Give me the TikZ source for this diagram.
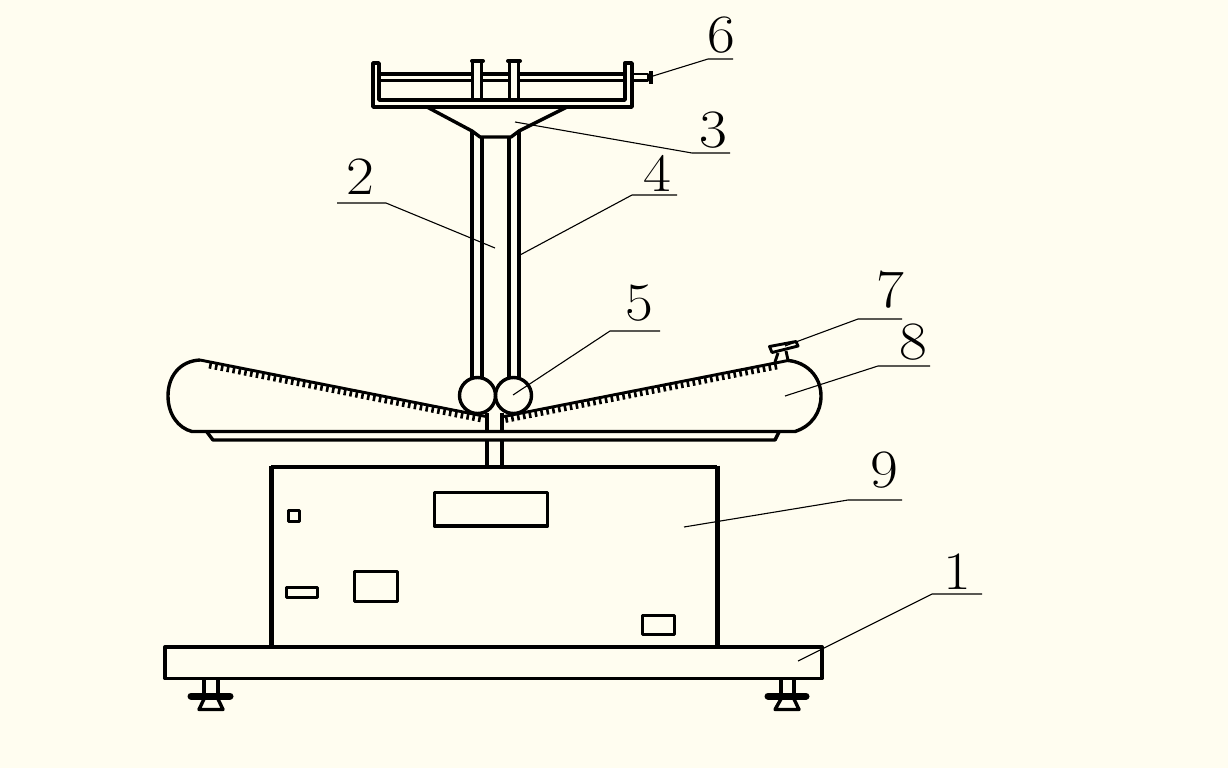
\documentclass[tikz,border=0pt]{standalone}
\definecolor{paper}{HTML}{FFFDF0}
\tikzset{
  heavy/.style={line width=3.4pt,line join=round,black},
  sidewall/.style={line width=5pt,black},
  medium/.style={line width=2.9pt,line join=round,black},
  graduation/.style={line width=2.6pt,black},
  footbar/.style={line width=7pt,line cap=round,black},
  leader/.style={line width=1.1pt,black},
  numeral/.style={font=\fontsize{54}{54}\selectfont,inner sep=0pt,text=black,transform shape,xscale=1.12}
}
\begin{document}
\begin{tikzpicture}[x=1pt,y=-1pt]
\fill[paper] (0,0) rectangle (1228,768);
\useasboundingbox (0,0) rectangle (1228,768);

% base and feet
\draw[heavy] (165,647) rectangle (822,678.5);
\draw[heavy] (204,679) -- (204,695) (218,679) -- (218,695);
\draw[heavy] (781,679) -- (781,695) (794,679) -- (794,695);
\draw[footbar] (191,696) -- (230,696);
\draw[footbar] (768,696) -- (806,696);
\draw[heavy] (204,699) -- (199,709.5) -- (223,709.5) -- (218,699);
\draw[heavy] (781,699) -- (775,709.5) -- (799,709.5) -- (794,699);

% cabinet
\draw[heavy] (271,467) -- (717,467);
\draw[sidewall] (271,465.5) -- (271,647);
\draw[sidewall] (717,465.5) -- (717,647);
\draw[medium] (288.5,510.5) rectangle (299.5,521.5);
\draw[heavy] (434.5,492.5) rectangle (547.5,526);
\draw[medium] (286.5,587.5) rectangle (317.5,597.5);
\draw[medium] (354.5,571.5) rectangle (397.5,601.5);
\draw[medium] (642.5,615.5) rectangle (674.5,634.5);

% central shaft
\draw[heavy] (487,440) -- (487,467) (502,440) -- (502,467);
\draw[heavy] (487,413) -- (487,432) (502,413) -- (502,432);

% trough
\draw[heavy] (200,360) .. controls (180,361) and (168,376) .. (168,396)
  .. controls (168,414) and (178,428) .. (192,431.5) -- (795,431.5)
  .. controls (812,426) and (821,412) .. (821,396)
  .. controls (821,376) and (806,362) .. (788,360.5);
\draw[medium] (200,360) -- (486,416.5);
\draw[medium] (504,416.5) -- (788,360.5);
\draw[heavy] (207,432) -- (213,440) -- (775,440) -- (779,432);
\foreach \t in {0,1,...,46}{
  \pgfmathsetmacro{\tx}{211+5.85*\t}
  \pgfmathsetmacro{\ty}{360+0.198*(\tx-200)}
  \draw[graduation] (\tx,\ty) -- (\tx-1.2,\ty+6.5);
}
\foreach \t in {0,1,...,46}{
  \pgfmathsetmacro{\tx}{506+5.85*\t}
  \pgfmathsetmacro{\ty}{416.5-0.197*(\tx-504)}
  \draw[graduation] (\tx,\ty) -- (\tx+1.2,\ty+6.5);
}

% clamp on trough
\draw[medium] (769.5,346.5) -- (796,341.5) -- (798,346) -- (772,352.5) -- cycle;
\draw[medium] (778,353) -- (775,362) (786,351) -- (788,360);

% balls
\draw[heavy] (477.5,395.5) circle[radius=18];
\draw[heavy] (513.5,395.5) circle[radius=18];

% tubes
\draw[heavy] (472,131) -- (472,378) (482,137) -- (482,378);
\draw[heavy] (509,137) -- (509,378) (519,131) -- (519,378);

% funnel
\draw[heavy] (427,107) -- (472,131) -- (480,137) -- (511,137) -- (519,131) -- (567,107);

% tray
\draw[heavy] (379,100) -- (379,63) -- (373,63) -- (373,107) -- (632,107) -- (632,63) -- (625,63) -- (625,100) -- cycle;
\draw[medium] (472.5,100) -- (472.5,61) (481.5,100) -- (481.5,61);
\draw[medium] (509.5,100) -- (509.5,61) (518.5,100) -- (518.5,61);
\draw[line width=4pt,line cap=round] (472,61) -- (483,61);
\draw[line width=4pt,line cap=round] (508,61) -- (520,61);
\draw[heavy] (380,74) -- (472,74) (482,74) -- (509,74) (519,74) -- (624,74);
\draw[heavy] (380,80.5) -- (472,80.5) (482,80.5) -- (509,80.5) (519,80.5) -- (624,80.5);
\draw[medium] (633,74) -- (648,74) -- (648,80.5) -- (633,80.5);
\draw[line width=4.5pt] (651,71) -- (651,84);

% numerals
\node[numeral] (n1) at (957,572) {1};
\node[numeral] (n2) at (360,177) {2};
\node[numeral] (n3) at (713,130) {3};
\node[numeral] (n4) at (657,173) {4};
\node[numeral] (n5) at (639,303) {5};
\node[numeral] (n6) at (721,35) {6};
\node[numeral] (n7) at (890,290) {7};
\node[numeral] (n8) at (913,342) {8};
\node[numeral] (n9) at (884,470) {9};

% leaders
\coordinate (a1) at (798,661);  \coordinate (k1) at (932,594); \coordinate (e1) at (982,594);
\coordinate (a2) at (495,248);  \coordinate (k2) at (386,203); \coordinate (e2) at (337,203);
\coordinate (a3) at (515,122);  \coordinate (k3) at (692,153); \coordinate (e3) at (730,153);
\coordinate (a4) at (520,255);  \coordinate (k4) at (632,195); \coordinate (e4) at (677,195);
\coordinate (a5) at (513,395);  \coordinate (k5) at (610,331); \coordinate (e5) at (660,331);
\coordinate (a6) at (653,76);   \coordinate (k6) at (708,59);  \coordinate (e6) at (733,59);
\coordinate (a7) at (785,346);  \coordinate (k7) at (858,319); \coordinate (e7) at (902,319);
\coordinate (a8) at (785,396);  \coordinate (k8) at (878,366); \coordinate (e8) at (930,366);
\coordinate (a9) at (684,527);  \coordinate (k9) at (848,500); \coordinate (e9) at (902,500);
\foreach \k in {1,...,9}{
  \draw[leader] (a\k) -- (k\k) -- (e\k);
}
\end{tikzpicture}
\end{document}
